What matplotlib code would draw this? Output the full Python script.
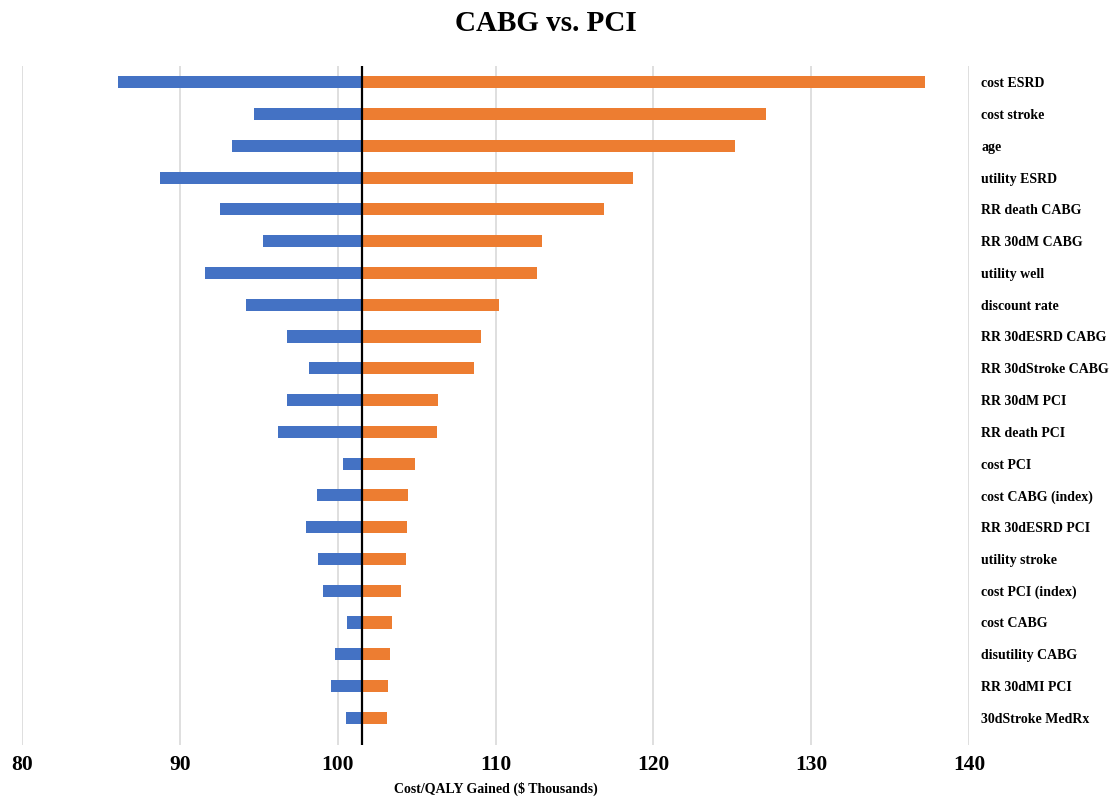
import matplotlib.pyplot as plt
import numpy as np

# данные: параметры и границы Cost/QALY (тыс. $)
params = ['cost ESRD', 'cost stroke', 'age', 'utility ESRD', 'RR death CABG',
          'RR 30dM CABG', 'utility well', 'discount rate', 'RR 30dESRD CABG',
          'RR 30dStroke CABG', 'RR 30dM PCI', 'RR death PCI', 'cost PCI',
          'cost CABG (index)', 'RR 30dESRD PCI', 'utility stroke',
          'cost PCI (index)', 'cost CABG', 'disutility CABG', 'RR 30dMI PCI',
          '30dStroke MedRx']
low = [86.1, 94.7, 93.3, 88.75, 92.55, 95.3, 91.6, 94.2, 96.8, 98.2, 96.8,
       96.2, 100.35, 98.7, 98.0, 98.75, 99.1, 100.6, 99.8, 99.6, 100.5]
high = [137.2, 127.15, 125.2, 118.7, 116.9, 112.95, 112.6, 110.2, 109.1,
        108.65, 106.35, 106.3, 104.9, 104.45, 104.4, 104.35, 104.0, 103.45,
        103.3, 103.2, 103.1]
base = 101.55

plt.rcParams['font.family'] = ['Liberation Serif', 'DejaVu Serif']

fig = plt.figure(figsize=(11.12, 8), dpi=100)
ax = fig.add_axes([0.0198, 0.069, 0.8516, 0.848])

y = np.arange(len(params))
low = np.array(low)
high = np.array(high)

ax.barh(y, low - base, left=base, height=0.38, color='#4472C4', zorder=3)
ax.barh(y, high - base, left=base, height=0.38, color='#ED7D31', zorder=3)
ax.axvline(base, color='black', linewidth=1.6, zorder=4)

ax.set_xlim(80, 140)
ax.set_ylim(len(params) - 0.15, -0.5)
ax.set_xticks([80, 90, 100, 110, 120, 130, 140])
ax.grid(axis='x', color='#d9d9d9', linewidth=1.2, zorder=0)

ax.yaxis.tick_right()
ax.set_yticks(y)
ax.set_yticklabels(params, fontsize=10, fontweight='bold')
ax.tick_params(axis='y', length=0, pad=9)
ax.tick_params(axis='x', length=0, pad=7, labelsize=15.5)
for lab in ax.get_xticklabels():
    lab.set_fontweight('bold')

for s in ax.spines.values():
    s.set_visible(False)

ax.set_xlabel('Cost/QALY Gained ($ Thousands)', fontsize=10, fontweight='bold', labelpad=5)
fig.suptitle('CABG vs. PCI', fontsize=21, fontweight='bold', x=0.491, y=0.988)

fig.savefig('out.png', dpi=100)
